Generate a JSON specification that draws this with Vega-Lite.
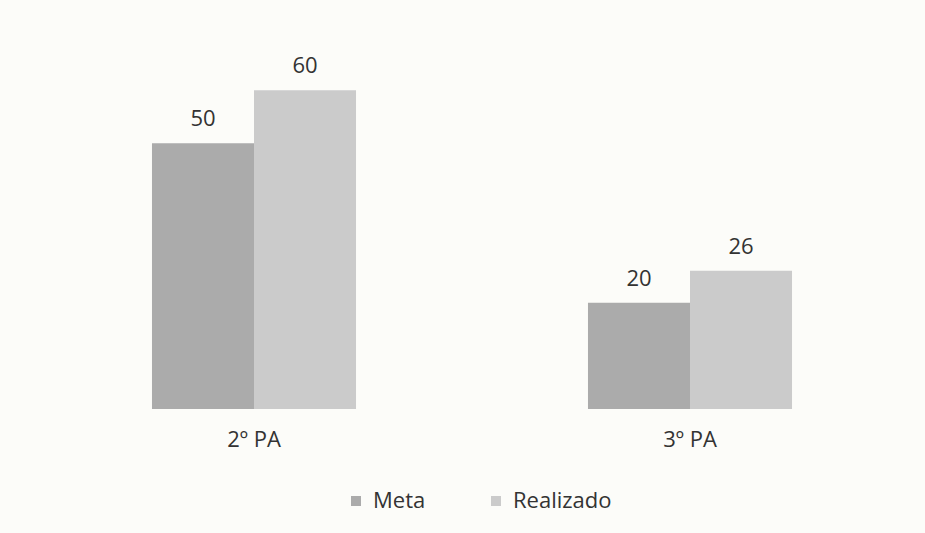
{
  "$schema": "https://vega.github.io/schema/vega-lite/v6.json",
  "width": 872,
  "height": 372,
  "autosize": {"type": "none"},
  "padding": {"left": 36, "top": 37, "right": 17, "bottom": 124},
  "background": "#fcfcf9",
  "config": {
    "view": {"stroke": null},
    "font": "Open Sans"
  },
  "data": {
    "values": [
      {"grupo": "2º PA", "serie": "Meta", "valor": 50},
      {"grupo": "2º PA", "serie": "Realizado", "valor": 60},
      {"grupo": "3º PA", "serie": "Meta", "valor": 20},
      {"grupo": "3º PA", "serie": "Realizado", "valor": 26}
    ]
  },
  "encoding": {
    "x": {
      "field": "grupo",
      "type": "nominal",
      "scale": {"paddingInner": 0.532, "paddingOuter": 0.266},
      "axis": {
        "title": null,
        "domain": false,
        "ticks": false,
        "labelAngle": 0,
        "labelFontSize": 22,
        "labelColor": "#333333",
        "labelPadding": 20
      }
    },
    "xOffset": {"field": "serie", "type": "nominal", "scale": {"paddingInner": 0, "paddingOuter": 0}},
    "y": {
      "field": "valor",
      "type": "quantitative",
      "scale": {"domain": [0, 70]},
      "axis": null
    }
  },
  "layer": [
    {
      "mark": {"type": "bar"},
      "encoding": {
        "color": {
          "field": "serie",
          "type": "nominal",
          "scale": {"domain": ["Meta", "Realizado"], "range": ["#ababab", "#cbcbcb"]},
          "legend": {
            "title": null,
            "orient": "none",
            "direction": "horizontal",
            "legendX": 309,
            "legendY": 453,
            "symbolType": "square",
            "symbolSize": 100,
            "symbolStrokeWidth": 0,
            "labelFontSize": 22,
            "labelColor": "#333333",
            "columnPadding": 59,
            "labelOffset": 6
          }
        }
      }
    },
    {
      "mark": {"type": "text", "baseline": "alphabetic", "dy": -17, "fontSize": 22, "color": "#333333"},
      "encoding": {"text": {"field": "valor", "type": "quantitative"}}
    }
  ]
}
